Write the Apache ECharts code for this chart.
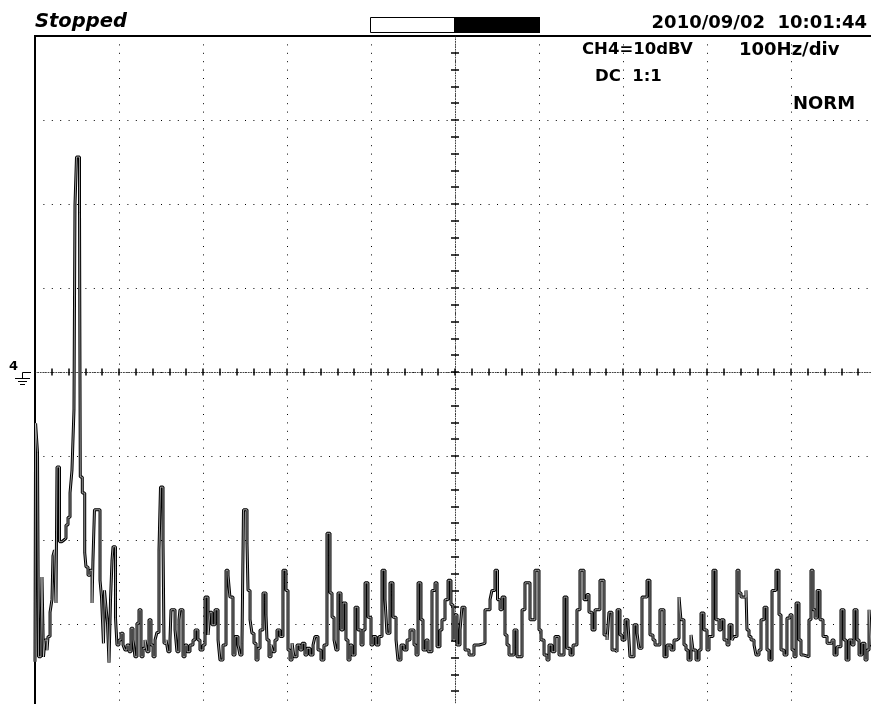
<!DOCTYPE html>
<html><head><meta charset="utf-8">
<script src="https://cdn.jsdelivr.net/npm/echarts@6/dist/echarts.min.js"></script>
<style>html,body{margin:0;padding:0;background:#fff;overflow:hidden}#c{width:871px;height:704px}</style>
</head><body><div id="c"></div>
<script>
// FFT spectrum: [frequency Hz, level dBV relative to reference]
const spectrum = [
[0,-34.5],[0.7,-6.1],[3.0,-9.6],[4.2,-33.9],[7.1,-32.5],[8.3,-24.4],[10.1,-33.9],[11.9,-31.9],[14.3,-33.1],[15.5,-31.5],
[17.9,-28.6],[20.2,-27.1],[21.4,-21.9],[23.2,-21.2],[25.0,-27.5],[26.2,-11.3],[29.2,-20.2],[32.1,-20.0],[34.5,-19.8],[36.9,-18.2],
[39.3,-17.3],[41.7,-14.4],[44.0,-11.7],[45.2,-8.1],[46.4,-4.5],[47.6,19.9],[49.4,25.6],[53.0,19.0],[53.9,-12.5],[56.3,-14.4],
[59.2,-21.5],[60.7,-23.2],[63.1,-24.2],[65.5,-23.6],[67.9,-27.5],[69.0,-22.4],[70.8,-16.4],[77.4,-24.8],[79.2,-26.8],[81.5,-32.3],
[82.7,-26.0],[84.5,-28.0],[86.3,-29.9],[88.1,-34.6],[89.9,-27.1],[91.7,-22.4],[92.9,-20.8],[95.8,-29.2],[97.6,-32.5],
[100.0,-31.9],[102.4,-31.1],[104.8,-32.5],[107.1,-33.1],[109.5,-32.5],[111.9,-33.3],[114.3,-30.5],[116.7,-31.9],[119.0,-33.9],[121.4,-29.9],
[123.8,-28.3],[126.2,-33.9],[128.6,-32.9],[131.0,-31.9],[133.3,-33.3],[135.7,-29.5],[138.1,-32.5],[140.5,-33.9],[142.9,-31.9],[145.2,-31.0],
[147.6,-21.2],[149.4,-13.7],[152.4,-20.2],[153.6,-32.3],[156.0,-31.9],[158.3,-33.3],[160.7,-31.9],[161.9,-28.3],[166.7,-30.7],[169.0,-33.3],
[171.4,-29.5],[172.6,-28.3],[176.2,-33.9],[178.6,-32.5],[181.0,-33.3],[184.5,-32.5],[188.1,-31.9],[190.5,-30.7],[194.0,-31.9],[196.4,-33.1],
[200.0,-32.5],[202.4,-26.8],[206.0,-31.3],[208.3,-28.6],[210.7,-30.1],[214.3,-28.3],[217.9,-31.9],[220.2,-34.3],[223.8,-32.5],[227.4,-23.6],
[229.8,-24.2],[232.1,-26.8],[235.7,-33.7],[238.1,-31.5],[241.7,-32.5],[244.0,-33.7],[246.4,-32.3],[248.2,-16.4],[252.4,-20.4],[253.6,-26.0],
[256.0,-29.5],[258.3,-31.1],[260.7,-32.3],[263.1,-34.3],[265.5,-32.9],[267.9,-30.7],[271.4,-26.3],[275.0,-28.9],[276.2,-31.9],[278.6,-33.9],
[281.0,-32.5],[283.3,-33.3],[285.7,-31.9],[288.1,-30.7],[291.7,-31.5],[295.2,-23.6],[298.8,-26.0],[301.2,-33.1],[303.6,-34.3],[306.0,-32.3],
[308.3,-33.9],[311.9,-32.5],[315.5,-33.1],[317.9,-32.3],[321.4,-33.7],[323.8,-32.9],[327.4,-33.7],[331.0,-32.5],[333.3,-31.5],[336.9,-33.1],
[340.5,-34.3],[344.0,-32.5],[347.6,-19.2],[351.2,-26.3],[353.6,-29.2],[356.0,-31.9],[358.3,-33.1],[360.7,-26.3],[364.3,-30.7],[366.7,-27.5],
[370.2,-31.9],[372.6,-34.3],[375.0,-32.5],[377.4,-33.7],[381.0,-28.0],[384.5,-30.7],[388.1,-32.5],[390.5,-30.7],[392.9,-25.1],[396.4,-29.2],
[400.0,-32.5],[402.4,-31.5],[406.0,-32.5],[409.5,-31.5],[413.1,-23.6],[416.7,-27.1],[419.0,-31.1],[422.6,-25.1],[426.2,-29.2],[429.8,-31.9],
[432.1,-34.3],[435.7,-32.5],[439.3,-33.1],[442.9,-31.9],[446.4,-30.7],[451.2,-32.5],[453.6,-33.7],[456.0,-25.1],[459.5,-29.5],[461.9,-33.1],
[465.5,-31.9],[467.9,-33.3],[472.6,-26.0],[476.2,-25.1],[478.6,-32.7],[482.1,-30.7],[484.5,-29.5],[488.1,-27.1],[491.7,-24.8],[495.2,-27.7],
[497.6,-31.9],[500.0,-28.9],[502.4,-32.5],[506.0,-30.7],[508.3,-28.0],[511.9,-33.1],[516.7,-33.7],[522.6,-32.5],[528.6,-32.3],[535.7,-28.3],
[541.7,-27.1],[544.0,-26.0],[547.6,-23.6],[550.6,-27.1],[553.6,-28.3],[556.0,-26.8],[559.5,-31.3],[561.9,-32.5],[564.3,-33.7],[570.2,-30.7],
[573.8,-33.9],[579.8,-28.3],[583.3,-25.1],[589.3,-29.5],[595.2,-23.6],[600.0,-30.7],[602.4,-31.9],[606.0,-33.7],[609.5,-34.3],[611.9,-32.5],
[615.5,-33.3],[619.0,-31.5],[623.8,-33.7],[629.8,-26.8],[633.3,-32.9],[636.9,-33.7],[640.5,-32.5],[645.2,-28.3],[648.8,-23.6],[653.6,-27.1],
[657.1,-26.5],[659.5,-28.6],[663.1,-30.7],[666.7,-28.3],[672.6,-24.8],[677.4,-31.3],[681.0,-31.9],[683.3,-28.6],[686.9,-33.1],[690.5,-33.3],
[692.9,-28.3],[696.4,-31.3],[698.8,-31.9],[702.4,-29.5],[706.0,-30.1],[708.3,-33.9],[713.1,-30.1],[716.7,-31.1],[719.0,-32.9],[722.6,-26.8],
[728.6,-24.8],[732.1,-31.3],[735.7,-31.9],[738.1,-32.5],[744.0,-28.3],[748.8,-33.9],[752.4,-32.5],[757.1,-33.1],[760.7,-31.9],[764.3,-31.7],
[766.7,-26.8],[769.0,-29.5],[772.6,-32.5],[775.0,-33.1],[777.4,-34.3],[781.0,-31.3],[783.3,-33.1],[786.9,-34.3],[790.5,-33.1],[792.9,-28.7],
[796.4,-30.7],[800.0,-33.1],[802.4,-31.5],[807.1,-23.6],[810.7,-29.5],[814.3,-30.7],[816.7,-29.5],[820.2,-31.9],[823.8,-32.5],[826.2,-30.1],
[829.8,-31.9],[832.1,-31.5],[835.7,-23.6],[838.1,-26.3],[840.5,-26.8],[846.4,-26.0],[847.6,-30.7],[850.0,-31.5],[852.4,-31.9],[856.0,-32.5],
[858.3,-33.7],[861.9,-33.1],[864.3,-29.5],[867.9,-28.0],[871.4,-33.1],[873.8,-34.3],[877.4,-26.0],[882.1,-23.6],[885.7,-28.9],[888.1,-33.1],
[891.7,-33.7],[895.2,-29.3],[898.8,-28.9],[901.2,-33.1],[903.6,-33.9],[906.0,-27.5],[909.5,-31.9],[911.9,-33.7],[915.5,-33.9],[921.4,-29.5],
[923.8,-23.6],[926.2,-28.3],[928.6,-29.3],[931.0,-26.0],[934.5,-29.5],[938.1,-31.5],[942.9,-32.3],[948.8,-31.9],[951.2,-33.7],[954.8,-32.7],
[959.5,-28.3],[963.1,-31.9],[965.5,-34.3],[969.0,-31.9],[972.6,-32.5],[975.0,-28.3],[978.6,-31.9],[981.0,-33.7],[984.5,-32.3],[988.1,-34.3],
[990.5,-33.1],[992.9,-28.3],[995.2,-32.5],[1000,-33.1]
];
const freqRange = [0, 1000];      // Hz, 100 Hz/div
const levelRange = [-40, 40];     // dBV, 10 dBV/div
const headerTexts = { status: 'Stopped', date: '2010/09/02  10:01:44' };
const infoTexts = ['CH4=10dBV', '100Hz/div', 'DC  1:1', 'NORM'];

const chart = echarts.init(document.getElementById('c'), null, {renderer: 'canvas'});
const font = 'DejaVu Sans';
const dotted = {color: '#000', width: 1, type: [1, 7.4]};
const fine = {color: '#444', width: 1, type: [1, 1.6]};

const option = {
  animation: false,
  backgroundColor: '#fff',
  grid: {left: 35, top: 36, width: 840, height: 672, show: true, borderColor: '#000', borderWidth: 2, backgroundColor: '#fff',
         containLabel: false, outerBoundsMode: 'none'},
  xAxis: [
    {type: 'value', min: freqRange[0], max: freqRange[1], interval: 100, axisLine: {show: false}, axisTick: {show: false}, axisLabel: {show: false},
     splitLine: {show: true, lineStyle: dotted}},
    {type: 'value', min: freqRange[0], max: freqRange[1], interval: 20, position: 'bottom',
     axisLine: {show: true, onZero: true, onZeroAxisIndex: 0, lineStyle: fine},
     axisTick: {show: true, inside: false, length: 3.5, lineStyle: {color: '#000', width: 1.5}}, axisLabel: {show: false}, splitLine: {show: false}},
    {type: 'value', min: freqRange[0], max: freqRange[1], interval: 20, position: 'bottom',
     axisLine: {show: true, onZero: true, onZeroAxisIndex: 0, lineStyle: {opacity: 0}},
     axisTick: {show: true, inside: true, length: 3.5, lineStyle: {color: '#000', width: 1.5}}, axisLabel: {show: false}, splitLine: {show: false}},
    {type: 'value', min: -500, max: 500, show: false}
  ],
  yAxis: [
    {type: 'value', min: levelRange[0], max: levelRange[1], interval: 10, axisLine: {show: false}, axisTick: {show: false}, axisLabel: {show: false},
     splitLine: {show: true, lineStyle: dotted}},
    {type: 'value', min: levelRange[0], max: levelRange[1], interval: 2, position: 'left',
     axisLine: {show: true, onZero: true, onZeroAxisIndex: 3, lineStyle: fine},
     axisTick: {show: true, inside: false, length: 4, lineStyle: {color: '#000', width: 1.5}}, axisLabel: {show: false}, splitLine: {show: false}},
    {type: 'value', min: levelRange[0], max: levelRange[1], interval: 2, position: 'left',
     axisLine: {show: true, onZero: true, onZeroAxisIndex: 3, lineStyle: {opacity: 0}},
     axisTick: {show: true, inside: true, length: 4, lineStyle: {color: '#000', width: 1.5}}, axisLabel: {show: false}, splitLine: {show: false}}
  ],
  series: [
    {type: 'line', xAxisIndex: 0, yAxisIndex: 0, data: spectrum, step: 'end', symbol: 'none', lineStyle: {color: '#000', width: 3}, z: 5},
    {type: 'line', xAxisIndex: 0, yAxisIndex: 0, data: spectrum, step: 'end', symbol: 'none', lineStyle: {color: '#fff', width: 0.6}, z: 6}
  ],
  graphic: [
    {type: 'text', left: 35, top: 12, style: {text: headerTexts.status, font: 'italic bold 19.5px "' + font + '"', fill: '#000'}},
    {type: 'rect', shape: {x: 370.5, y: 17.5, width: 84, height: 15}, style: {fill: '#fff', stroke: '#000', lineWidth: 1}},
    {type: 'rect', shape: {x: 454, y: 17, width: 86, height: 16}, style: {fill: '#000'}},
    {type: 'text', x: 867, y: 23, style: {text: headerTexts.date, font: 'bold 18px "' + font + '"', fill: '#000', align: 'right', verticalAlign: 'middle'}},
    {type: 'text', x: 582, y: 50, style: {text: infoTexts[0], font: 'bold 16.5px "' + font + '"', fill: '#000', verticalAlign: 'middle'}, z: 10},
    {type: 'text', x: 739, y: 50, style: {text: infoTexts[1], font: 'bold 18px "' + font + '"', fill: '#000', verticalAlign: 'middle'}, z: 10},
    {type: 'text', x: 595, y: 77, style: {text: infoTexts[2], font: 'bold 16.5px "' + font + '"', fill: '#000', verticalAlign: 'middle'}, z: 10},
    {type: 'text', x: 793, y: 104, style: {text: infoTexts[3], font: 'bold 18px "' + font + '"', fill: '#000', verticalAlign: 'middle'}, z: 10},
    {type: 'text', x: 9, y: 367, style: {text: '4', font: 'bold 13px "' + font + '"', fill: '#000', verticalAlign: 'middle'}},
    {type: 'polyline', shape: {points: [[31, 372.5], [22.5, 372.5], [22.5, 378]]}, style: {stroke: '#000', lineWidth: 1, fill: null}},
    {type: 'line', shape: {x1: 15, y1: 378.5, x2: 30, y2: 378.5}, style: {stroke: '#000', lineWidth: 1}},
    {type: 'line', shape: {x1: 18, y1: 381.5, x2: 27, y2: 381.5}, style: {stroke: '#000', lineWidth: 1}},
    {type: 'line', shape: {x1: 20, y1: 384.5, x2: 25, y2: 384.5}, style: {stroke: '#000', lineWidth: 1}}
  ]
};
chart.setOption(option);
</script></body></html>
